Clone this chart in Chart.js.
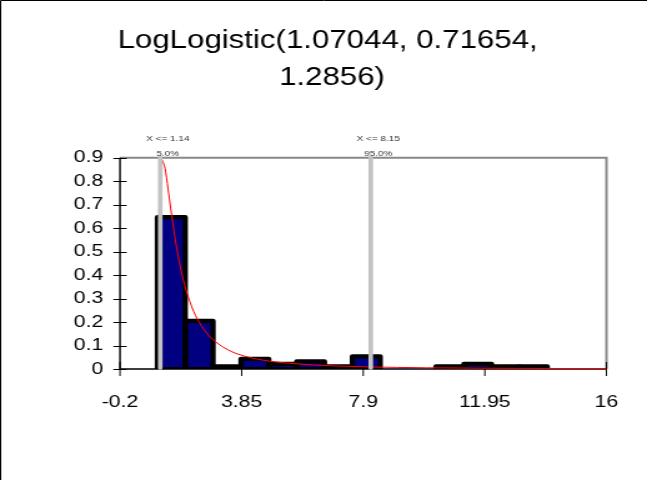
<!DOCTYPE html>
<html>
<head>
<meta charset="utf-8">
<script src="https://cdn.jsdelivr.net/npm/chart.js@4/dist/chart.umd.min.js"></script>
<style>
  html, body { margin: 0; padding: 0; background: #fff; overflow: hidden; }
  #wrap { width: 518px; height: 480px; transform: scaleX(1.249035); transform-origin: 0 0; }
  #c { display: block; width: 518px; height: 480px; }
</style>
</head>
<body>
<div id="wrap"><canvas id="c" width="518" height="480"></canvas></div>
<script>
// Axis ticks
const xTickValues = [-0.2, 3.85, 7.9, 11.95, 16];
const xTickLabels = ['-0.2', '3.85', '7.9', '11.95', '16'];
const yTickValues = [0, 0.1, 0.2, 0.3, 0.4, 0.5, 0.6, 0.7, 0.8, 0.9];
const yTickLabels = ['0', '0.1', '0.2', '0.3', '0.4', '0.5', '0.6', '0.7', '0.8', '0.9'];

// Histogram: bin centres and relative frequency (density)
const binCenters = [1.509, 2.436, 3.364, 4.292, 5.219, 6.147, 7.074, 8.002, 8.929, 9.857, 10.785, 11.712, 12.640, 13.567];
const binDensity = [0.6468, 0.2048, 0.0108, 0.0431, 0.0216, 0.0323, 0.0108, 0.0539, 0, 0, 0.0108, 0.0216, 0.0108, 0.0108];

// Fitted LogLogistic density curve
const fitX = [1.2, 1.3, 1.4, 1.5, 1.6, 1.75, 1.9, 2.0, 2.25, 2.5, 2.75, 3.0, 3.5, 4.0, 4.5, 5, 6, 7, 8, 9, 10, 12, 14, 16];
const fitY = [0.892, 0.855, 0.767, 0.673, 0.585, 0.472, 0.384, 0.336, 0.246, 0.186, 0.144, 0.114, 0.075, 0.053, 0.039, 0.030, 0.019, 0.013, 0.009, 0.0068, 0.0052, 0.0033, 0.0023, 0.0017];

// Percentile markers
const markerX = [1.14, 8.15];
const markerTop = ['X <= 1.14', 'X <= 8.15'];
const markerBottom = ['5.0%', '95.0%'];

const titleLines = ['LogLogistic(1.07044, 0.71654, ', '1.2856)'];

Chart.defaults.font.family = "'Liberation Sans', Arial, sans-serif";
Chart.defaults.color = '#000';

// frame, axis lines and crossing tick marks (under the bars)
const axesUnder = {
  id: 'axesUnder',
  beforeDatasetsDraw(chart) {
    const { ctx, chartArea: a, scales } = chart;
    ctx.save();
    ctx.strokeStyle = '#888';
    ctx.lineWidth = 2;
    ctx.beginPath();
    ctx.moveTo(a.left, a.top);
    ctx.lineTo(a.right, a.top);
    ctx.lineTo(a.right, a.bottom);
    ctx.stroke();

    ctx.strokeStyle = '#000';
    ctx.lineWidth = 1.4;
    ctx.beginPath();
    ctx.moveTo(a.left, a.top);
    ctx.lineTo(a.left, a.bottom);
    ctx.lineTo(a.right, a.bottom);
    ctx.stroke();

    ctx.lineWidth = 1;
    ctx.beginPath();
    yTickValues.forEach(v => {
      const y = Math.round(scales.y.getPixelForValue(v)) + 0.5;
      ctx.moveTo(a.left - 5.3, y);
      ctx.lineTo(a.left + 5.3, y);
    });
    xTickValues.forEach(v => {
      const x = scales.x.getPixelForValue(v);
      ctx.moveTo(x, a.bottom - 7);
      ctx.lineTo(x, a.bottom + 7);
    });
    ctx.stroke();
    ctx.restore();
  }
};

// thick black outline round each histogram bar
const barOutline = {
  id: 'barOutline',
  afterDatasetDraw(chart, args) {
    if (args.index !== 0) return;
    const { ctx, chartArea: a } = chart;
    ctx.save();
    ctx.beginPath();
    ctx.rect(a.left, a.top - 6, a.right - a.left, a.bottom - a.top + 6);
    ctx.clip();
    ctx.lineWidth = 4.2;
    ctx.lineJoin = 'round';
    ctx.strokeStyle = '#000';
    args.meta.data.forEach((bar, i) => {
      if (!binDensity[i]) return;
      const p = bar.getProps(['x', 'y', 'base', 'width'], true);
      ctx.strokeRect(p.x - p.width / 2, p.y, p.width, p.base - p.y);
    });
    ctx.restore();
  }
};

// percentile lines with their labels, and the outer frame
const markers = {
  id: 'markers',
  afterDatasetsDraw(chart) {
    const { ctx, chartArea: a, scales } = chart;
    ctx.save();
    ctx.strokeStyle = '#c3c3c3';
    ctx.lineWidth = 3.7;
    ctx.lineCap = 'round';
    markerX.forEach(v => {
      const x = scales.x.getPixelForValue(v);
      ctx.beginPath();
      ctx.moveTo(x, a.top);
      ctx.lineTo(x, a.bottom - 1);
      ctx.stroke();
    });
    ctx.fillStyle = '#333';
    ctx.font = "8px 'Liberation Sans', Arial, sans-serif";
    ctx.textAlign = 'center';
    ctx.textBaseline = 'middle';
    markerX.forEach((v, i) => {
      const x = scales.x.getPixelForValue(v) + 6;
      ctx.fillText(markerTop[i], x, a.top - 18.5);
      ctx.fillText(markerBottom[i], x, a.top - 4);
    });
    ctx.restore();
  },
  afterDraw(chart) {
    const { ctx, width, height } = chart;
    ctx.save();
    ctx.strokeStyle = '#000';
    ctx.lineWidth = 1;
    ctx.beginPath();
    ctx.moveTo(0.5, height);
    ctx.lineTo(0.5, 0.5);
    ctx.lineTo(width, 0.5);
    ctx.stroke();
    ctx.restore();
  }
};

new Chart(document.getElementById('c'), {
  type: 'bar',
  data: {
    datasets: [
      {
        type: 'bar',
        data: binCenters.map((x, i) => ({ x, y: binDensity[i] })),
        backgroundColor: '#000080',
        borderWidth: 0,
        barPercentage: 1,
        categoryPercentage: 1,
        order: 2
      },
      {
        type: 'line',
        data: fitX.map((x, i) => ({ x, y: fitY[i] })),
        borderColor: '#ff0000',
        borderWidth: 1,
        pointRadius: 0,
        fill: false,
        cubicInterpolationMode: 'monotone',
        order: 1
      }
    ]
  },
  options: {
    responsive: false,
    animation: false,
    devicePixelRatio: 1,
    layout: { padding: { left: 44.8, right: 31.2, top: 0, bottom: 0 } },
    plugins: {
      legend: { display: false },
      tooltip: { enabled: false },
      title: {
        display: true,
        text: titleLines,
        color: '#000',
        font: { size: 25, weight: 'normal', lineHeight: 1.468 },
        padding: { top: 23, bottom: 61.3 }
      }
    },
    scales: {
      x: {
        type: 'linear',
        offset: false,
        min: -0.2,
        max: 16,
        grid: { display: false, drawTicks: false, offset: false },
        border: { display: false },
        afterBuildTicks(scale) { scale.ticks = xTickValues.map(value => ({ value })); },
        afterFit(scale) { scale.height = 111; },
        ticks: {
          autoSkip: false,
          maxRotation: 0,
          padding: 23,
          font: { size: 17 },
          color: '#000',
          callback: (v, i) => xTickLabels[i]
        }
      },
      y: {
        type: 'linear',
        min: 0,
        max: 0.9,
        grid: { display: false, drawTicks: false },
        border: { display: false },
        afterBuildTicks(scale) { scale.ticks = yTickValues.map(value => ({ value })); },
        afterFit(scale) { scale.width = 51.27; },
        ticks: {
          padding: 13.4,
          font: { size: 17 },
          color: '#000',
          callback: (v, i) => yTickLabels[i]
        }
      }
    }
  },
  plugins: [axesUnder, barOutline, markers]
});
</script>
</body>
</html>
